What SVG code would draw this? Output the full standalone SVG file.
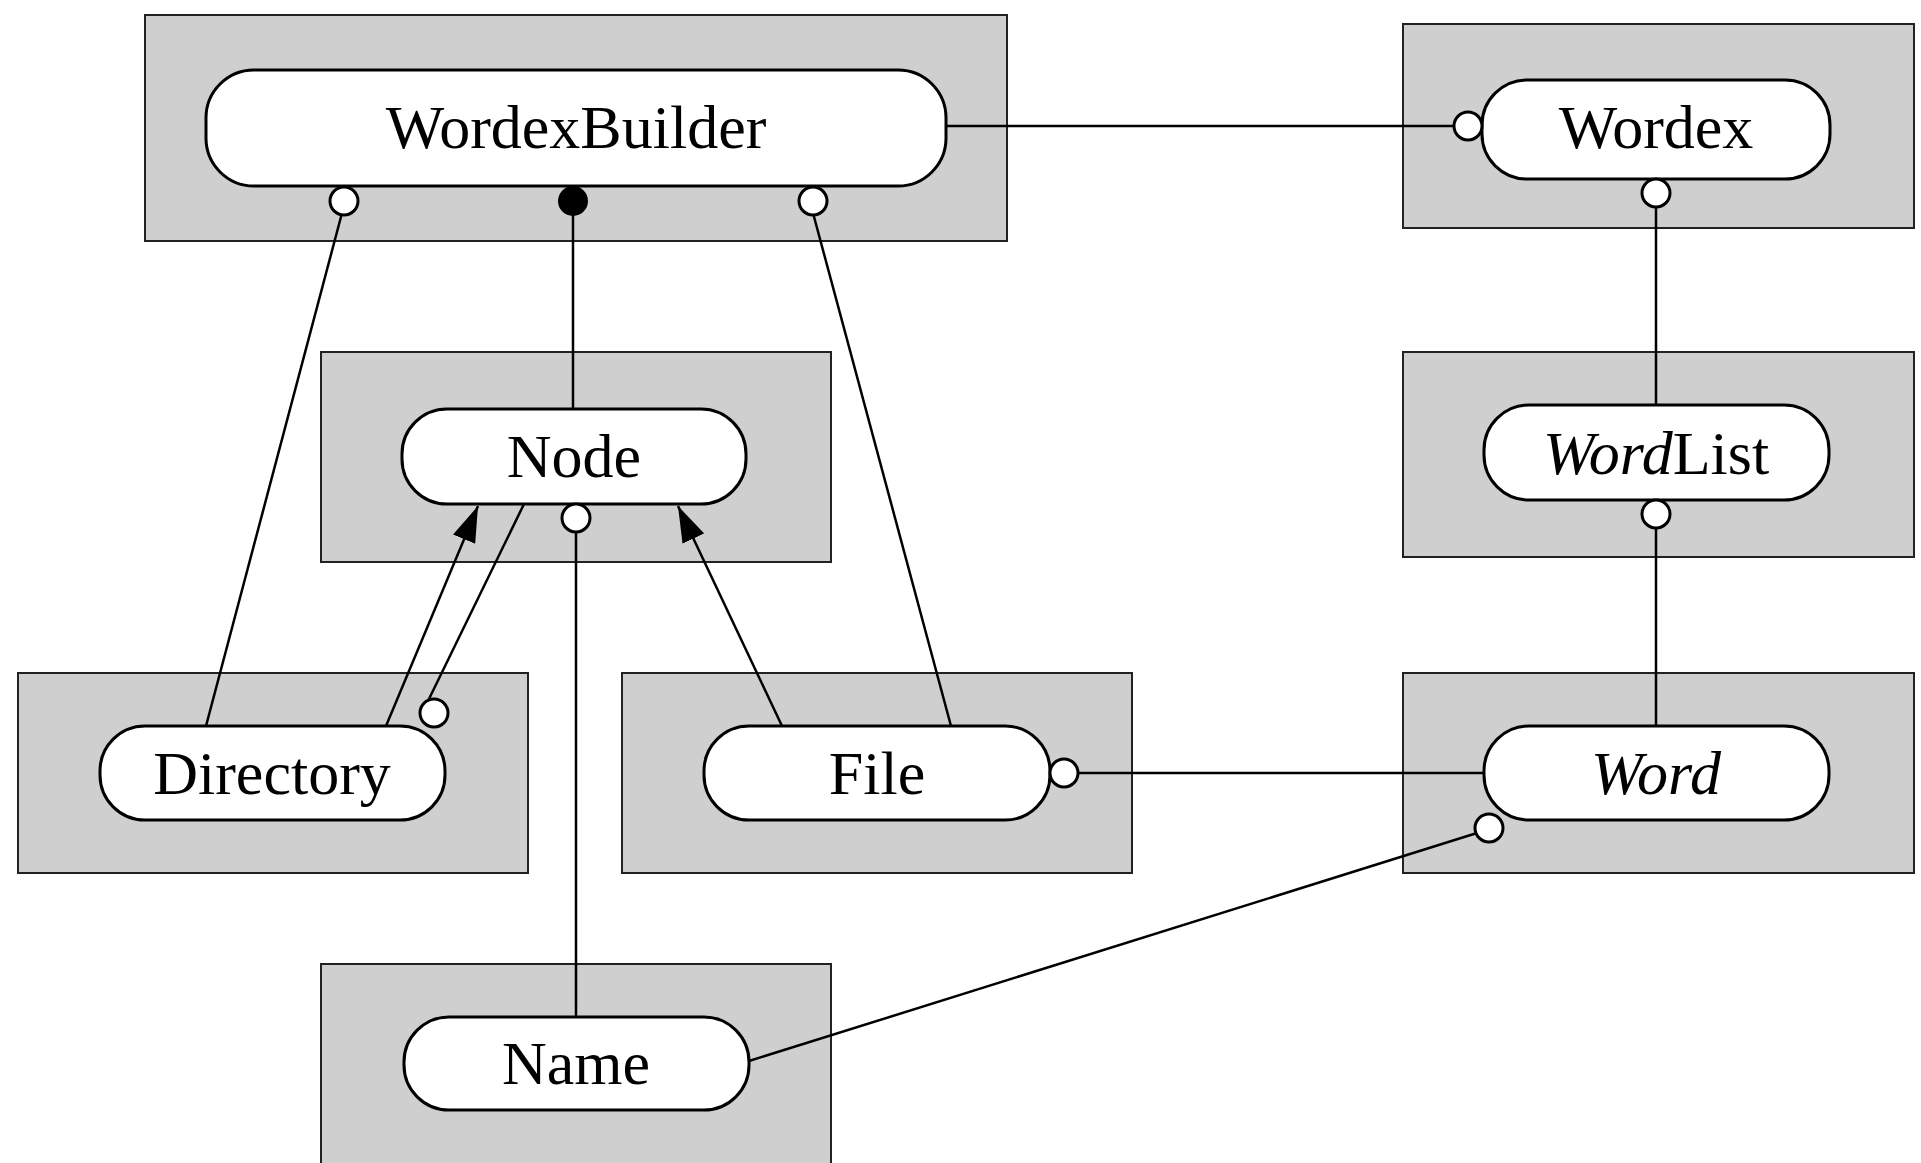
<svg xmlns="http://www.w3.org/2000/svg" width="1921" height="1163" viewBox="0 0 1921 1163">
<style>
.bg{fill:#ffffff}
.shade{fill:#cfcfcf;stroke:#222;stroke-width:2}
.obj{fill:#ffffff;stroke:#000;stroke-width:3}
.lbl{font-family:"Liberation Serif","Times New Roman",serif;font-size:62px;fill:#000;text-anchor:middle}
.it{font-style:italic}
.ln{stroke:#000;stroke-width:2.5;fill:none}
.oc{fill:#fff;stroke:#000;stroke-width:3}
.fc{fill:#000;stroke:#000;stroke-width:2}
</style>
<defs>
<marker id="arr" viewBox="0 0 36 24" refX="36" refY="12" markerWidth="36" markerHeight="24" markerUnits="userSpaceOnUse" orient="auto">
<path d="M0,0 L36,12 L0,24 z" fill="#000"/>
</marker>
</defs>
<rect class="bg" x="0" y="0" width="1921" height="1163"/>
<g id="WordexBuilder">
<rect class="shade" x="145" y="15" width="862" height="226"/>
<rect class="obj" x="206" y="70" width="740" height="116" rx="48" ry="48"/>
<text class="lbl" x="576" y="148">WordexBuilder</text>
</g>
<g id="Wordex">
<rect class="shade" x="1403" y="24" width="511" height="204"/>
<rect class="obj" x="1482" y="80" width="348" height="99" rx="45" ry="45"/>
<text class="lbl" x="1656" y="148">Wordex</text>
</g>
<g id="Node">
<rect class="shade" x="321" y="352" width="510" height="210"/>
<rect class="obj" x="402" y="409" width="344" height="95" rx="45" ry="45"/>
<text class="lbl" x="574" y="477">Node</text>
</g>
<g id="WordList">
<rect class="shade" x="1403" y="352" width="511" height="205"/>
<rect class="obj" x="1484" y="405" width="345" height="95" rx="45" ry="45"/>
<text class="lbl" x="1656" y="474"><tspan class="it">Word</tspan>List</text>
</g>
<g id="Directory">
<rect class="shade" x="18" y="673" width="510" height="200"/>
<rect class="obj" x="100" y="726" width="345" height="94" rx="45" ry="45"/>
<text class="lbl" x="272" y="794">Directory</text>
</g>
<g id="File">
<rect class="shade" x="622" y="673" width="510" height="200"/>
<rect class="obj" x="704" y="726" width="346" height="94" rx="45" ry="45"/>
<text class="lbl" x="877" y="794">File</text>
</g>
<g id="Word">
<rect class="shade" x="1403" y="673" width="511" height="200"/>
<rect class="obj" x="1484" y="726" width="345" height="94" rx="45" ry="45"/>
<text class="lbl it" x="1656" y="794">Word</text>
</g>
<g id="Name">
<rect class="shade" x="321" y="964" width="510" height="210"/>
<rect class="obj" x="404" y="1017" width="345" height="93" rx="45" ry="45"/>
<text class="lbl" x="576" y="1084">Name</text>
</g>
<g id="connectors">
<line class="ln" x1="946" y1="126" x2="1456" y2="126"/>
<line class="ln" x1="342" y1="213" x2="206" y2="726"/>
<line class="ln" x1="573" y1="212" x2="573" y2="409"/>
<line class="ln" x1="813" y1="213" x2="951" y2="726"/>
<line class="ln" x1="1656" y1="205" x2="1656" y2="405"/>
<line class="ln" x1="1656" y1="526" x2="1656" y2="726"/>
<line class="ln" x1="386" y1="726" x2="478" y2="506" marker-end="url(#arr)"/>
<line class="ln" x1="524" y1="504" x2="428" y2="701"/>
<line class="ln" x1="576" y1="530" x2="576" y2="1017"/>
<line class="ln" x1="782" y1="726" x2="678" y2="506" marker-end="url(#arr)"/>
<line class="ln" x1="1076" y1="773" x2="1484" y2="773"/>
<line class="ln" x1="1477" y1="833" x2="749" y2="1061"/>
<circle class="oc" cx="344" cy="201" r="14"/>
<circle class="fc" cx="573" cy="201" r="14"/>
<circle class="oc" cx="813" cy="201" r="14"/>
<circle class="oc" cx="1468" cy="126" r="14"/>
<circle class="oc" cx="1656" cy="193" r="14"/>
<circle class="oc" cx="576" cy="518" r="14"/>
<circle class="oc" cx="1656" cy="514" r="14"/>
<circle class="oc" cx="434" cy="713" r="14"/>
<circle class="oc" cx="1064" cy="773" r="14"/>
<circle class="oc" cx="1489" cy="828" r="14"/>
</g>
</svg>
